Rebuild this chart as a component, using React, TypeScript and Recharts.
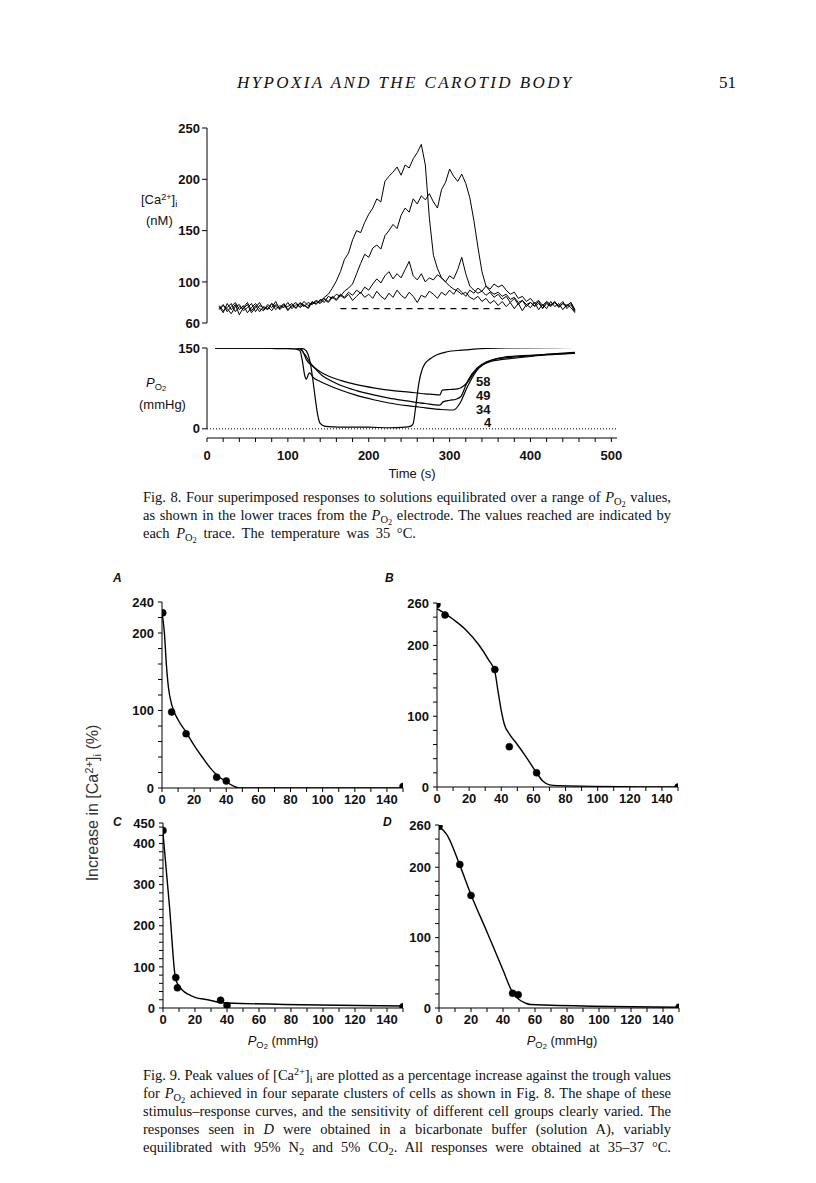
import { LineChart, Line, XAxis, YAxis, ReferenceLine } from 'recharts';

// ---- Fig. 8, upper panel: [Ca2+]i traces (nM), sampled every 5 s ----
const caTime = [15, 20, 25, 30, 35, 40, 45, 50, 55, 60, 65, 70, 75, 80, 85, 90, 95, 100, 105, 110, 115, 120, 125, 130, 135, 140, 145, 150, 155, 160, 165, 170, 175, 180, 185, 190, 195, 200, 205, 210, 215, 220, 225, 230, 235, 240, 245, 250, 255, 260, 265, 270, 275, 280, 285, 290, 295, 300, 305, 310, 315, 320, 325, 330, 335, 340, 345, 350, 355, 360, 365, 370, 375, 380, 385, 390, 395, 400, 405, 410, 415, 420, 425, 430, 435, 440, 445, 450, 455];
const ca4 = [76, 70, 79, 73, 78, 68, 75, 80, 72, 77, 71, 76, 74, 79, 73, 77, 75, 80, 74, 78, 76, 81, 77, 79, 82, 80, 85, 88, 94, 101, 110, 122, 128, 141, 150, 148, 158, 166, 172, 181, 178, 198, 203, 207, 212, 204, 214, 211, 220, 226, 234, 214, 162, 126, 113, 104, 100, 96, 93, 91, 88, 90, 85, 83, 86, 81, 84, 79, 82, 77, 81, 76, 80, 74, 79, 72, 78, 75, 80, 73, 78, 74, 81, 76, 79, 73, 78, 75, 70];
const ca34 = [74, 78, 71, 76, 80, 73, 77, 70, 75, 79, 74, 72, 78, 75, 81, 73, 77, 76, 79, 74, 80, 77, 75, 81, 78, 83, 80, 86, 84, 88, 86, 91, 94, 98, 108, 118, 127, 124, 133, 136, 132, 145, 150, 156, 152, 165, 172, 168, 181, 176, 184, 180, 186, 178, 172, 190, 197, 210, 203, 198, 205, 196, 182, 160, 134, 110, 96, 91, 88, 90, 86, 88, 83, 85, 80, 82, 78, 80, 76, 79, 75, 80, 77, 81, 75, 79, 76, 80, 72];
const ca49 = [77, 72, 75, 79, 71, 76, 74, 78, 70, 75, 80, 73, 76, 72, 78, 75, 79, 73, 77, 80, 75, 78, 74, 80, 79, 82, 84, 81, 86, 83, 88, 85, 90, 87, 92, 89, 95, 92, 98, 103, 99, 106, 110, 103, 108, 104, 112, 120, 106, 102, 108, 100, 104, 102, 107, 104, 100, 106, 103, 112, 124, 108, 96, 92, 89, 91, 87, 90, 85, 88, 83, 86, 80, 84, 78, 82, 76, 80, 77, 81, 74, 79, 76, 80, 77, 81, 74, 78, 71];
const ca58 = [73, 77, 74, 69, 76, 78, 72, 75, 79, 71, 77, 75, 73, 79, 76, 74, 78, 72, 77, 75, 79, 76, 80, 78, 81, 79, 83, 80, 85, 82, 87, 84, 88, 82, 86, 90, 85, 88, 84, 91, 86, 83, 89, 85, 92, 87, 84, 90, 86, 80, 87, 85, 91, 88, 84, 90, 87, 92, 88, 94, 90, 86, 92, 89, 94, 91, 96, 93, 98, 95, 97, 92, 88, 90, 84, 86, 81, 84, 79, 82, 77, 81, 78, 80, 76, 79, 77, 80, 73];
const caTicks = [60, 100, 150, 200, 250];

// ---- Fig. 8, lower panel: PO2 electrode traces (mmHg) ----
const po2Time4 = [10, 50, 85, 95, 100, 105, 112, 120, 125, 128, 131, 134, 137, 140, 145, 150, 175, 200, 225, 245, 252, 255, 258, 262, 266, 270, 276, 285, 297, 315, 330, 370, 455];
const po2Val4 = [150, 150, 151, 155, 157, 156, 151, 148, 138, 120, 90, 55, 25, 10, 5, 4, 3, 3, 2, 3, 5, 10, 40, 85, 110, 122, 130, 138, 143, 146, 148, 150, 151];
const po2Time34 = [10, 60, 85, 100, 110, 115, 118, 121, 123, 125, 127, 131, 140, 150, 165, 185, 206, 225, 247, 270, 288, 300, 305, 313, 322, 334, 351, 380, 420, 455];
const po2Val34 = [150, 150, 149, 149, 148, 145, 125, 98, 92, 100, 104, 96, 88, 81, 72, 62, 54, 48, 43, 39, 36, 35, 35, 48, 78, 109, 125, 131, 137, 141];
const po2Time49 = [10, 60, 90, 100, 110, 116, 121, 128, 135, 144, 155, 165, 185, 206, 225, 247, 270, 288, 292, 300, 308, 314, 322, 334, 345, 355, 388, 420, 455];
const po2Val49 = [150, 150, 150, 151, 150, 147, 138, 122, 110, 97, 88, 81, 71, 63, 57, 52, 47, 44, 50, 53, 55, 60, 88, 113, 124, 129, 134, 138, 142];
const po2Time58 = [10, 60, 88, 95, 105, 113, 118, 123, 130, 140, 150, 165, 185, 206, 230, 250, 270, 288, 291, 300, 310, 316, 322, 330, 340, 350, 368, 390, 420, 455];
const po2Val58 = [150, 150, 151, 153, 154, 153, 145, 128, 117, 106, 98, 90, 82, 76, 71, 68, 65, 63, 72, 73, 74, 78, 86, 104, 118, 126, 133, 136, 138, 140];
const timeTicks = [0, 20, 40, 60, 80, 100, 120, 140, 160, 180, 200, 220, 240, 260, 280, 300, 320, 340, 360, 380, 400, 420, 440, 460, 480, 500];
const timeLabels = [0, 100, 200, 300, 400, 500];

// ---- Fig. 9: increase in [Ca2+]i (%) against PO2 (mmHg) ----
const curveAx = [0, 1.5, 2.7, 4, 6, 10, 15, 20, 25, 30, 34, 40, 44, 48, 150];
const curveAy = [226, 200, 160, 130, 108, 88, 72, 55, 40, 26, 17, 8, 3, 0, 0];
const pointsAx = [0.5, 6, 15, 34, 40, 150];
const pointsAy = [226, 98, 70, 14, 9, 2];

const curveBx = [0, 5, 10, 18, 26, 32, 36, 38, 40, 42, 45, 50, 55, 62, 66, 70, 75, 150];
const curveBy = [252, 245, 237, 222, 201, 180, 163, 135, 108, 88, 75, 60, 44, 20, 8, 3, 2, 0];
const pointsBx = [0, 5, 36, 45, 62, 150];
const pointsBy = [258, 243, 166, 57, 20, 0];

const curveCx = [0, 4, 8, 12, 16, 20, 28, 35, 40, 150];
const curveCy = [425, 250, 68, 44, 33, 26, 20, 14, 12, 5];
const pointsCx = [0, 8, 9, 36, 40, 150];
const pointsCy = [432, 74, 49, 19, 6, 3];

const curveDx = [0, 5, 13, 20, 30, 40, 46, 50, 54, 57, 150];
const curveDy = [258, 246, 203, 161, 108, 54, 22, 12, 7, 5, 1];
const pointsDx = [0, 13, 20, 46, 49.5, 150];
const pointsDy = [258, 204, 160, 21, 19, 1];

const po2Ticks = [0, 10, 20, 30, 40, 50, 60, 70, 80, 90, 100, 110, 120, 130, 140, 150];
const po2Labels = [0, 20, 40, 60, 80, 100, 120, 140];
const yTicks240 = [0, 20, 40, 60, 80, 100, 120, 140, 160, 180, 200, 220, 240];
const yTicks260 = [0, 20, 40, 60, 80, 100, 120, 140, 160, 180, 200, 220, 240, 260];
const yTicks450 = [0, 20, 40, 60, 80, 100, 120, 140, 160, 180, 200, 220, 240, 260, 280, 300, 320, 340, 360, 380, 400, 420, 440, 450];
const yLabels240 = [0, 100, 200, 240];
const yLabels260 = [0, 100, 200, 260];
const yLabels450 = [0, 100, 200, 300, 400, 450];

const zip = (xs: number[], ys: number[]) => xs.map((x, i) => ({ x, y: ys[i] }));
const caData = caTime.map((t, i) => ({ x: t, a: ca4[i], b: ca34[i], c: ca49[i], d: ca58[i] }));

const sans = '"Liberation Sans", Arial, sans-serif';
const serif = '"Liberation Serif", "Times New Roman", serif';
const tickStyle = { fontSize: 13, fontFamily: sans, fill: '#111', fontWeight: 700 };
const sub = { fontSize: '0.72em', verticalAlign: '-0.3em', lineHeight: 0 } as const;
const sup = { fontSize: '0.7em', verticalAlign: '0.45em', lineHeight: 0 } as const;

const Po2 = () => (
  <span>
    <i>P</i>
    <span style={sub}>
      O<span style={{ fontSize: '0.8em', verticalAlign: '-0.2em' }}>2</span>
    </span>
  </span>
);

const only = (list: number[]) => (v: number) => (list.includes(v) ? String(v) : '');

type PanelProps = {
  left: number; top: number; w: number; h: number;
  yMax: number; yTicks: number[]; yLabels: number[];
  curve: { x: number; y: number }[]; points: { x: number; y: number }[];
};

const Panel = ({ left, top, w, h, yMax, yTicks, yLabels, curve, points }: PanelProps) => (
  <div style={{ position: 'absolute', left: left - 50, top: top - 10 }}>
    <LineChart width={50 + w + 12} height={10 + h + 30} margin={{ top: 10, right: 12, bottom: 0, left: 0 }}>
      <XAxis type="number" dataKey="x" domain={[0, 150]} ticks={po2Ticks} interval={0}
        tickFormatter={only(po2Labels)} height={30} tickSize={4} tickMargin={3}
        stroke="#000" tick={tickStyle} allowDataOverflow />
      <YAxis type="number" domain={[0, yMax]} ticks={yTicks} interval={0}
        tickFormatter={only(yLabels)} width={50} tickSize={4} tickMargin={4}
        stroke="#000" tick={tickStyle} allowDataOverflow />
      <Line data={curve} dataKey="y" type="monotone" stroke="#000" strokeWidth={1.4}
        dot={false} activeDot={false} isAnimationActive={false} />
      <Line data={points} dataKey="y" stroke="none" activeDot={false}
        dot={{ r: 3.5, fill: '#000', stroke: '#000', strokeWidth: 0.5 }} isAnimationActive={false} />
    </LineChart>
  </div>
);

const Caption = ({ top, lines, lastJustified }: { top: number; lines: React.ReactNode[]; lastJustified?: boolean }) => (
  <div style={{ position: 'absolute', left: 143, top, width: 528, fontFamily: serif, fontSize: 14.5, lineHeight: '18px', color: '#111' }}>
    {lines.map((l, i) => (
      <div key={i} style={{
        textAlign: 'justify',
        textAlignLast: i < lines.length - 1 || lastJustified ? 'justify' : 'left',
        whiteSpace: 'nowrap',
      }}>{l}</div>
    ))}
  </div>
);

const abs = (left: number, top: number, extra: React.CSSProperties = {}): React.CSSProperties => ({
  position: 'absolute', left, top, fontFamily: sans, fontSize: 13, color: '#111', whiteSpace: 'nowrap', ...extra,
});

export default function App() {
  return (
    <div style={{ position: 'absolute', left: 0, top: 0, width: 816, height: 1183, background: '#fff' }}>
      {/* running head */}
      <div style={{ position: 'absolute', left: 237, top: 73, fontFamily: serif, fontStyle: 'italic', fontSize: 17, letterSpacing: 2.4, color: '#111' }}>
        HYPOXIA AND THE CAROTID BODY
      </div>
      <div style={{ position: 'absolute', left: 719, top: 73, fontFamily: serif, fontSize: 17, color: '#111' }}>51</div>

      {/* Fig. 8 upper panel */}
      <div style={{ position: 'absolute', left: 147, top: 118 }}>
        <LineChart width={60 + 410 + 10} height={10 + 195 + 15} data={caData}
          margin={{ top: 10, right: 10, bottom: 15, left: 0 }}>
          <XAxis type="number" dataKey="x" domain={[0, 507]} hide />
          <YAxis type="number" domain={[60, 250]} ticks={caTicks} interval={0} width={60}
            tickSize={5} tickMargin={2} stroke="#000" tick={tickStyle} allowDataOverflow />
          <ReferenceLine segment={[{ x: 165, y: 74 }, { x: 363, y: 74 }]} stroke="#000" strokeDasharray="6 5" strokeWidth={1.2} />
          <Line dataKey="d" stroke="#000" strokeWidth={1} dot={false} activeDot={false} isAnimationActive={false} />
          <Line dataKey="c" stroke="#000" strokeWidth={1} dot={false} activeDot={false} isAnimationActive={false} />
          <Line dataKey="b" stroke="#000" strokeWidth={1} dot={false} activeDot={false} isAnimationActive={false} />
          <Line dataKey="a" stroke="#000" strokeWidth={1} dot={false} activeDot={false} isAnimationActive={false} />
        </LineChart>
      </div>
      <div style={abs(141, 192)}>[Ca<span style={sup}>2+</span>]<span style={sub}>i</span></div>
      <div style={abs(146, 213)}>(nM)</div>

      {/* Fig. 8 lower panel */}
      <div style={{ position: 'absolute', left: 147, top: 338 }}>
        <LineChart width={60 + 410 + 10} height={10 + 90 + 40}
          margin={{ top: 10, right: 10, bottom: 0, left: 0 }}>
          <XAxis type="number" dataKey="x" domain={[0, 507]} ticks={timeTicks} interval={0}
            tickFormatter={only(timeLabels)} height={40} tickSize={4} tickMargin={9}
            stroke="#000" tick={tickStyle} allowDataOverflow />
          <YAxis type="number" domain={[-17, 150]} ticks={[0, 150]} interval={0} width={60}
            axisLine={false} tickSize={5} tickMargin={2} stroke="#000" tick={tickStyle} allowDataOverflow />
          <ReferenceLine y={0} stroke="#000" strokeDasharray="1 2" strokeWidth={1} />
          <ReferenceLine segment={[{ x: 0, y: 0 }, { x: 0, y: 150 }]} stroke="#000" strokeWidth={1} />
          <Line data={zip(po2Time58, po2Val58)} dataKey="y" type="monotone" stroke="#000" strokeWidth={1.2} dot={false} activeDot={false} isAnimationActive={false} />
          <Line data={zip(po2Time49, po2Val49)} dataKey="y" type="monotone" stroke="#000" strokeWidth={1.2} dot={false} activeDot={false} isAnimationActive={false} />
          <Line data={zip(po2Time34, po2Val34)} dataKey="y" type="monotone" stroke="#000" strokeWidth={1.2} dot={false} activeDot={false} isAnimationActive={false} />
          <Line data={zip(po2Time4, po2Val4)} dataKey="y" type="monotone" stroke="#000" strokeWidth={1.2} dot={false} activeDot={false} isAnimationActive={false} />
        </LineChart>
      </div>
      <div style={abs(146, 375)}><Po2 /></div>
      <div style={abs(139, 397)}>(mmHg)</div>
      <div style={abs(476, 374, { fontWeight: 700 })}>58</div>
      <div style={abs(476, 388, { fontWeight: 700 })}>49</div>
      <div style={abs(476, 402, { fontWeight: 700 })}>34</div>
      <div style={abs(484, 415, { fontWeight: 700 })}>4</div>
      <div style={abs(372, 466, { width: 80, textAlign: 'center' })}>Time (s)</div>

      <Caption top={488} lines={[
        <>Fig. 8. Four superimposed responses to solutions equilibrated over a range of <Po2 /> values,</>,
        <>as shown in the lower traces from the <Po2 /> electrode. The values reached are indicated by</>,
        <span style={{ wordSpacing: 3 }}>each <Po2 /> trace. The temperature was 35 °C.</span>,
      ]} />

      {/* Fig. 9 */}
      <div style={abs(113, 571, { fontStyle: 'italic', fontWeight: 700, fontSize: 12 })}>A</div>
      <div style={abs(385, 571, { fontStyle: 'italic', fontWeight: 700, fontSize: 12 })}>B</div>
      <div style={abs(113, 815, { fontStyle: 'italic', fontWeight: 700, fontSize: 12 })}>C</div>
      <div style={abs(383, 815, { fontStyle: 'italic', fontWeight: 700, fontSize: 12 })}>D</div>

      <Panel left={162} top={602} w={241} h={186} yMax={240} yTicks={yTicks240} yLabels={yLabels240}
        curve={zip(curveAx, curveAy)} points={zip(pointsAx, pointsAy)} />
      <Panel left={437} top={603} w={241} h={184} yMax={260} yTicks={yTicks260} yLabels={yLabels260}
        curve={zip(curveBx, curveBy)} points={zip(pointsBx, pointsBy)} />
      <Panel left={163} top={823} w={240} h={185} yMax={450} yTicks={yTicks450} yLabels={yLabels450}
        curve={zip(curveCx, curveCy)} points={zip(pointsCx, pointsCy)} />
      <Panel left={439} top={825} w={240} h={183} yMax={260} yTicks={yTicks260} yLabels={yLabels260}
        curve={zip(curveDx, curveDy)} points={zip(pointsDx, pointsDy)} />

      <div style={abs(93, 803, { fontSize: 16, color: '#333', transform: 'translate(-50%, -50%) rotate(-90deg)' })}>
        Increase in [Ca<span style={sup}>2+</span>]<span style={sub}>i</span> (%)
      </div>
      <div style={abs(283, 1033, { transform: 'translateX(-50%)' })}><Po2 /> (mmHg)</div>
      <div style={abs(562, 1033, { transform: 'translateX(-50%)' })}><Po2 /> (mmHg)</div>

      <Caption top={1066} lastJustified lines={[
        <>Fig. 9. Peak values of [Ca<span style={sup}>2+</span>]<span style={sub}>i</span> are plotted as a percentage increase against the trough values</>,
        <>for <Po2 /> achieved in four separate clusters of cells as shown in Fig. 8. The shape of these</>,
        <>stimulus–response curves, and the sensitivity of different cell groups clearly varied. The</>,
        <>responses seen in <i>D</i> were obtained in a bicarbonate buffer (solution A), variably</>,
        <>equilibrated with 95% N<span style={sub}>2</span> and 5% CO<span style={sub}>2</span>. All responses were obtained at 35–37 °C.</>,
      ]} />
    </div>
  );
}
